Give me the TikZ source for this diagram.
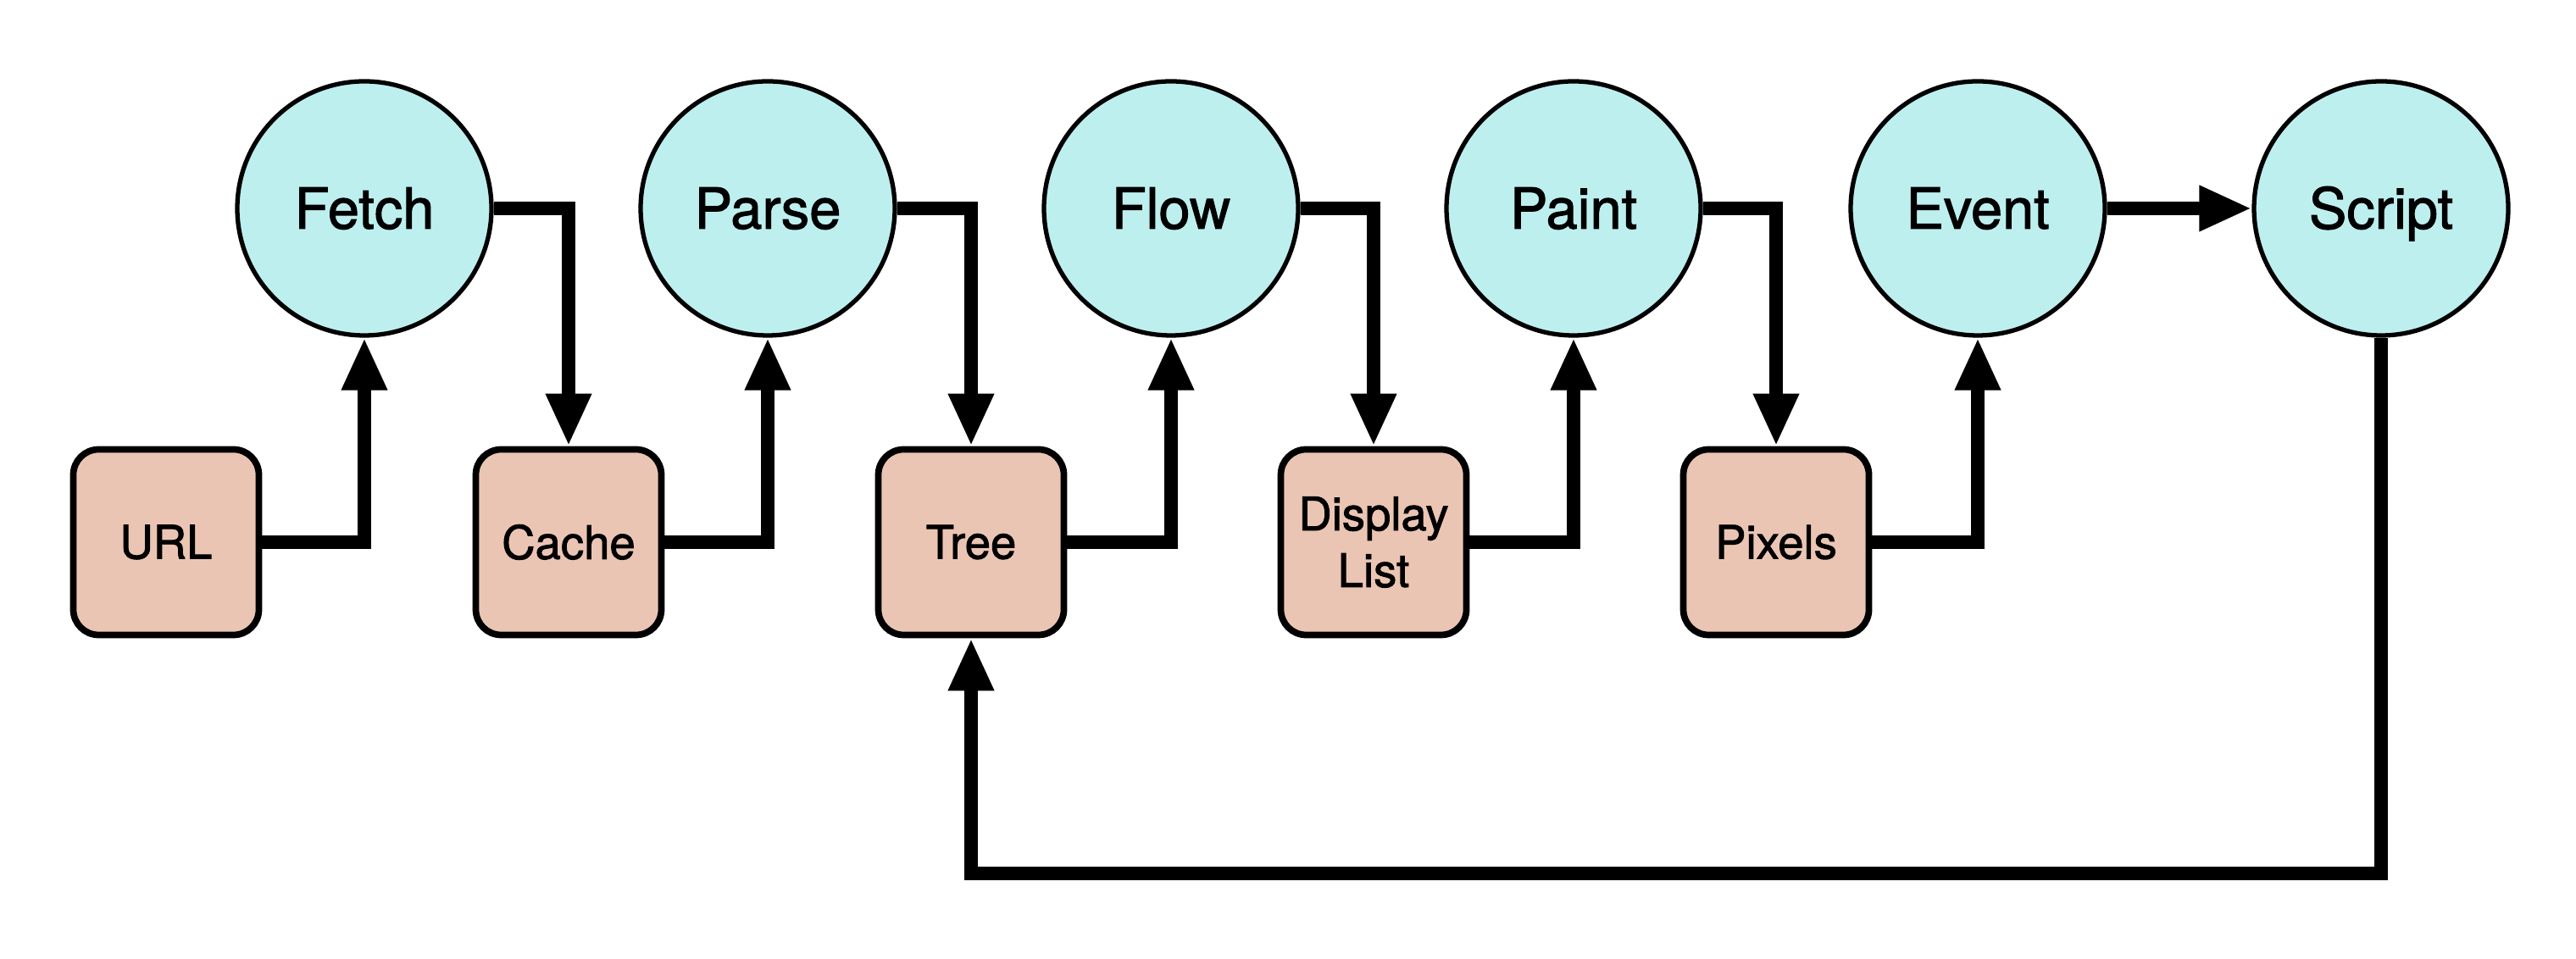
\documentclass[tikz,border=0pt]{standalone}
\usepackage{fontspec}
\setmainfont{TeX Gyre Heros}[RawFeature={embolden=1.6}]
\usetikzlibrary{arrows.meta}
\definecolor{stagefill}{RGB}{189,239,239}
\definecolor{datafill}{RGB}{235,197,180}
\tikzset{
  stage/.style={circle, draw=black, line width=1.5pt, fill=stagefill, minimum size=3cm, inner sep=0pt, text height=13.6pt, text depth=0pt, font=\fontsize{19}{22}\selectfont},
  data/.style={rectangle, rounded corners=0.3cm, draw=black, line width=2.2pt, fill=datafill, minimum width=2.19cm, minimum height=2.19cm, inner sep=2pt, align=center, font=\fontsize{15.5}{19}\selectfont},
  flow/.style={line width=4.5pt, -{Triangle[width=0.5cm,length=0.62cm]}}
}
\begin{document}
\begin{tikzpicture}
        \useasboundingbox (0,0) rectangle (30.4,11.32);

        \node[stage] (fetch) at (4.30,8.86) {Fetch};
        \node[stage] (parse) at (9.06,8.86) {Parse};
        \node[stage] (flow) at (13.82,8.86) {Flow};
        \node[stage] (paint) at (18.57,8.86) {Paint};
        \node[stage] (event) at (23.34,8.86) {Event};
        \node[stage] (script) at (28.10,8.86) {Script};

        \node[data] (url) at (1.96,4.92) {URL};
        \node[data] (cache) at (6.71,4.92) {Cache};
        \node[data] (tree) at (11.46,4.92) {Tree};
        \node[data] (display) at (16.21,4.92) {Display\\List};
        \node[data] (pixels) at (20.96,4.92) {Pixels};

        \draw[flow] (url.east) -| (fetch.south);
        \draw[flow] (fetch.east) -| (cache.north);
        \draw[flow] (cache.east) -| (parse.south);
        \draw[flow] (parse.east) -| (tree.north);
        \draw[flow] (tree.east) -| (flow.south);
        \draw[flow] (flow.east) -| (display.north);
        \draw[flow] (display.east) -| (paint.south);
        \draw[flow] (paint.east) -| (pixels.north);
        \draw[flow] (pixels.east) -| (event.south);
        \draw[flow] (event) -- (script);

        % loop back from script to the tree
        \coordinate (back) at (11.46,1.01);
        \draw[flow] (script.south) |- (back) -- (tree.south);
\end{tikzpicture}
\end{document}
